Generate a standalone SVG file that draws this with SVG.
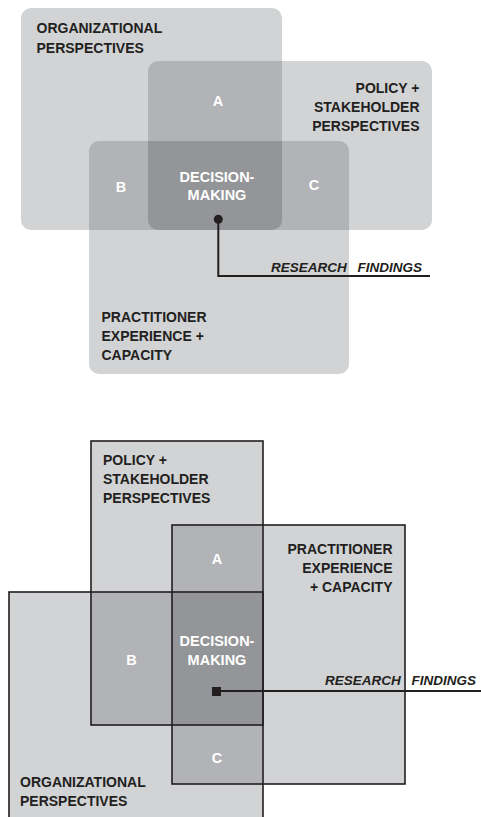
<svg xmlns="http://www.w3.org/2000/svg" width="481" height="817" viewBox="0 0 481 817">
<style>
.l1{fill:#d1d3d4}
.l2{fill:#b1b3b6}
.l3{fill:#939598}
.lbl{font-family:"Liberation Sans",Arial,sans-serif;font-weight:bold;font-size:14px;fill:#231f20}
.wl{font-family:"Liberation Sans",Arial,sans-serif;font-weight:bold;font-size:14.5px;fill:#ffffff;text-anchor:middle}
.rf{font-family:"Liberation Sans",Arial,sans-serif;font-weight:bold;font-style:italic;font-size:13.5px;fill:#231f20;text-anchor:end;word-spacing:7px}
.box{fill:none;stroke:#231f20;stroke-width:1.6}
.conn{fill:none;stroke:#231f20;stroke-width:2}
</style>
<defs>
<clipPath id="cO"><rect x="21" y="8" width="261" height="222" rx="10"/></clipPath>
<clipPath id="cP"><rect x="148" y="61" width="284" height="169" rx="10"/></clipPath>
</defs>
<rect width="481" height="817" fill="#ffffff"/>

<!-- TOP DIAGRAM -->
<g id="top-organizational">
<rect class="l1" x="21" y="8" width="261" height="222" rx="10"/>
<text class="lbl" x="36.5" y="33">ORGANIZATIONAL</text>
<text class="lbl" x="36.5" y="52.5">PERSPECTIVES</text>
</g>
<g id="top-policy">
<rect class="l1" x="148" y="61" width="284" height="169" rx="10"/>
</g>
<g id="top-practitioner">
<rect class="l1" x="89" y="141" width="260" height="233" rx="10"/>
</g>
<g id="top-overlaps">
<rect class="l2" x="148" y="61" width="284" height="169" rx="10" clip-path="url(#cO)"/>
<rect class="l2" x="89" y="141" width="260" height="233" rx="10" clip-path="url(#cO)"/>
<rect class="l2" x="89" y="141" width="260" height="233" rx="10" clip-path="url(#cP)"/>
<g clip-path="url(#cO)"><rect class="l3" x="89" y="141" width="260" height="233" rx="10" clip-path="url(#cP)"/></g>
</g>
<g id="top-policy-label">
<text class="lbl" x="419.5" y="92.5" text-anchor="end">POLICY +</text>
<text class="lbl" x="419.5" y="111.5" text-anchor="end">STAKEHOLDER</text>
<text class="lbl" x="419.5" y="130.5" text-anchor="end">PERSPECTIVES</text>
</g>
<g id="top-practitioner-label">
<text class="lbl" x="101.5" y="321.5">PRACTITIONER</text>
<text class="lbl" x="101.5" y="340.5">EXPERIENCE +</text>
<text class="lbl" x="101.5" y="359.5">CAPACITY</text>
</g>
<g id="top-A"><text class="wl" x="218" y="106">A</text></g>
<g id="top-B"><text class="wl" x="121" y="191.5">B</text></g>
<g id="top-C"><text class="wl" x="314" y="190">C</text></g>
<g id="top-decision-making">
<text class="wl" x="217" y="181.5">DECISION-</text>
<text class="wl" x="217" y="200">MAKING</text>
</g>

<!-- BOTTOM DIAGRAM -->
<g id="bottom-policy">
<rect class="l1" x="91" y="441" width="172" height="284"/>
</g>
<g id="bottom-practitioner">
<rect class="l1" x="172" y="525" width="233" height="259"/>
</g>
<g id="bottom-organizational">
<rect class="l1" x="9" y="592" width="254" height="230"/>
</g>
<g id="bottom-A"><rect class="l2" x="172" y="525" width="91" height="67"/><text class="wl" x="217" y="564">A</text></g>
<g id="bottom-B"><rect class="l2" x="91" y="592" width="81" height="133"/><text class="wl" x="131.5" y="665">B</text></g>
<g id="bottom-C"><rect class="l2" x="172" y="725" width="91" height="59"/><text class="wl" x="217" y="763">C</text></g>
<g id="bottom-decision-making"><rect class="l3" x="172" y="592" width="91" height="133"/>
<text class="wl" x="217" y="646">DECISION-</text>
<text class="wl" x="217" y="665">MAKING</text>
</g>
<g id="bottom-outlines">
<rect class="box" x="91" y="441" width="172" height="284"/>
<rect class="box" x="172" y="525" width="233" height="259"/>
<rect class="box" x="9" y="592" width="254" height="230"/>
</g>
<g id="bottom-labels">
<text class="lbl" x="103" y="465">POLICY +</text>
<text class="lbl" x="103" y="484">STAKEHOLDER</text>
<text class="lbl" x="103" y="503">PERSPECTIVES</text>
<text class="lbl" x="392.5" y="554" text-anchor="end">PRACTITIONER</text>
<text class="lbl" x="392.5" y="573" text-anchor="end">EXPERIENCE</text>
<text class="lbl" x="392.5" y="592" text-anchor="end">+ CAPACITY</text>
<text class="lbl" x="20" y="786.5">ORGANIZATIONAL</text>
<text class="lbl" x="20" y="805.5">PERSPECTIVES</text>
</g>

<!-- CONNECTORS -->
<g id="connectors">
<circle cx="218.3" cy="219.3" r="4.5" fill="#231f20"/>
<polyline class="conn" points="218.3,219.3 218.3,276 430,276"/>
<text class="rf" x="422" y="271.5">RESEARCH FINDINGS</text>
<rect x="212" y="687" width="9" height="9" fill="#231f20"/>
<line class="conn" x1="221" y1="691" x2="481" y2="691" stroke-width="2.4"/>
<text class="rf" x="476" y="685">RESEARCH FINDINGS</text>
</g>
</svg>
